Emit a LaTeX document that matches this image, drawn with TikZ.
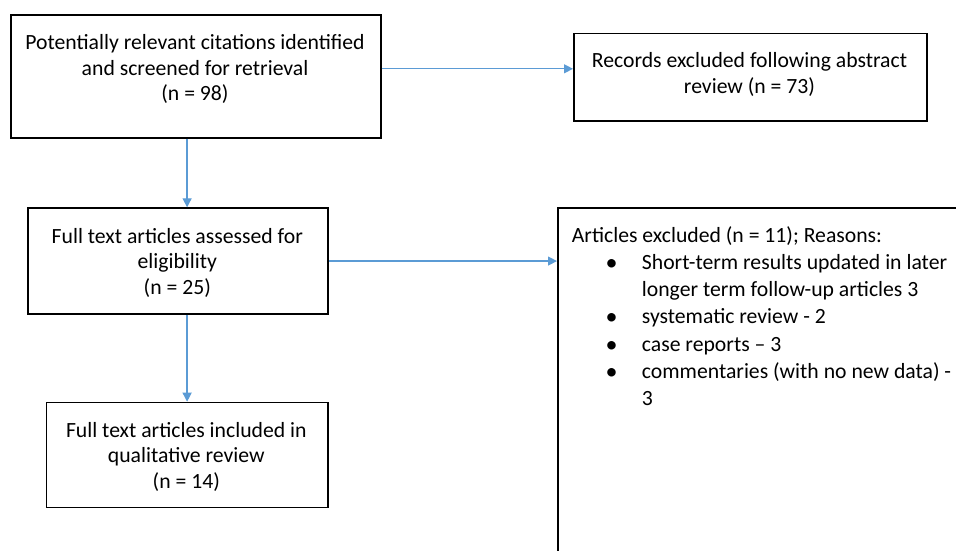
\documentclass[tikz,border=0pt]{standalone}
\usepackage{fontspec}
\setmainfont{Carlito}
\usetikzlibrary{arrows.meta,calc}
\definecolor{arrowblue}{HTML}{5B9BD5}
\begin{document}
\begin{tikzpicture}[x=1pt,y=-1pt,
  box/.style={draw=black,line width=1.5pt,inner sep=0pt,anchor=north west},
  txt/.style={font=\fontsize{21.7}{25.5}\selectfont,align=center,inner sep=0pt,anchor=base},
  ltxt/.style={font=\fontsize{21.7}{25.5}\selectfont,inner sep=0pt,anchor=base west},
  bul/.style={font=\fontsize{24}{25.5}\selectfont,inner sep=0pt,anchor=base},
  arr/.style={draw=arrowblue,line width=1.3pt,-{Triangle[length=9pt,width=9pt]}}]
\useasboundingbox (0,0) rectangle (956,550);
\clip (0,0) rectangle (956,550);
% boxes
\node[box,minimum width=370pt,minimum height=123pt] (A) at (10,14) {};
\node[box,minimum width=353pt,minimum height=87.3pt] (B) at (573,32.7) {};
\node[box,minimum width=300pt,minimum height=106pt] (C) at (27.3,207.3) {};
\node[box,minimum width=420pt,minimum height=360pt] (D) at (557,207.3) {};
\node[box,minimum width=281.3pt,minimum height=105pt] (E) at (45.7,401.7) {};
% texts (anchor base = baseline of last line)
\node[txt] (tA) at (195,100.5) {Potentially relevant citations identified\\and screened for retrieval\\(n = 98)};
\node[txt] (tB) at (749.5,93.3) {Records excluded following abstract\\review (n = 73)};
\node[txt] (tC) at (177.3,294) {Full text articles assessed for\\eligibility\\(n = 25)};
\node[txt] (tE) at (186.3,488.3) {Full text articles included in\\qualitative review\\(n = 14)};
\node[ltxt] (tD) at (571.7,242.3) {Articles excluded (n = 11); Reasons:};
\node[bul] (b1) at (611.7,270.5) {•};
\node[ltxt] (i1) at (641.7,269.5) {Short-term results updated in later};
\node[ltxt] (i1b) at (641.7,296.7) {longer term follow-up articles 3};
\node[bul] (b2) at (611.7,324.9) {•};
\node[ltxt] (i2) at (641.7,323.9) {systematic review - 2};
\node[bul] (b3) at (611.7,352.1) {•};
\node[ltxt] (i3) at (641.7,351.1) {case reports – 3};
\node[bul] (b4) at (611.7,379.3) {•};
\node[ltxt] (i4) at (641.7,378.3) {commentaries (with no new data) -};
\node[ltxt] (i4b) at (641.7,405.5) {3};
% connectors
\coordinate (ab) at ([yshift=8.3pt]B.west);
\draw[arr] (A.east |- ab) -- (ab);
\draw[arr] (A.south -| E.north) -- (C.north -| E.north);
\draw[arr] (C.east) -- (C.east -| D.west);
\draw[arr] (C.south -| E.north) -- (E.north);
\end{tikzpicture}
\end{document}
